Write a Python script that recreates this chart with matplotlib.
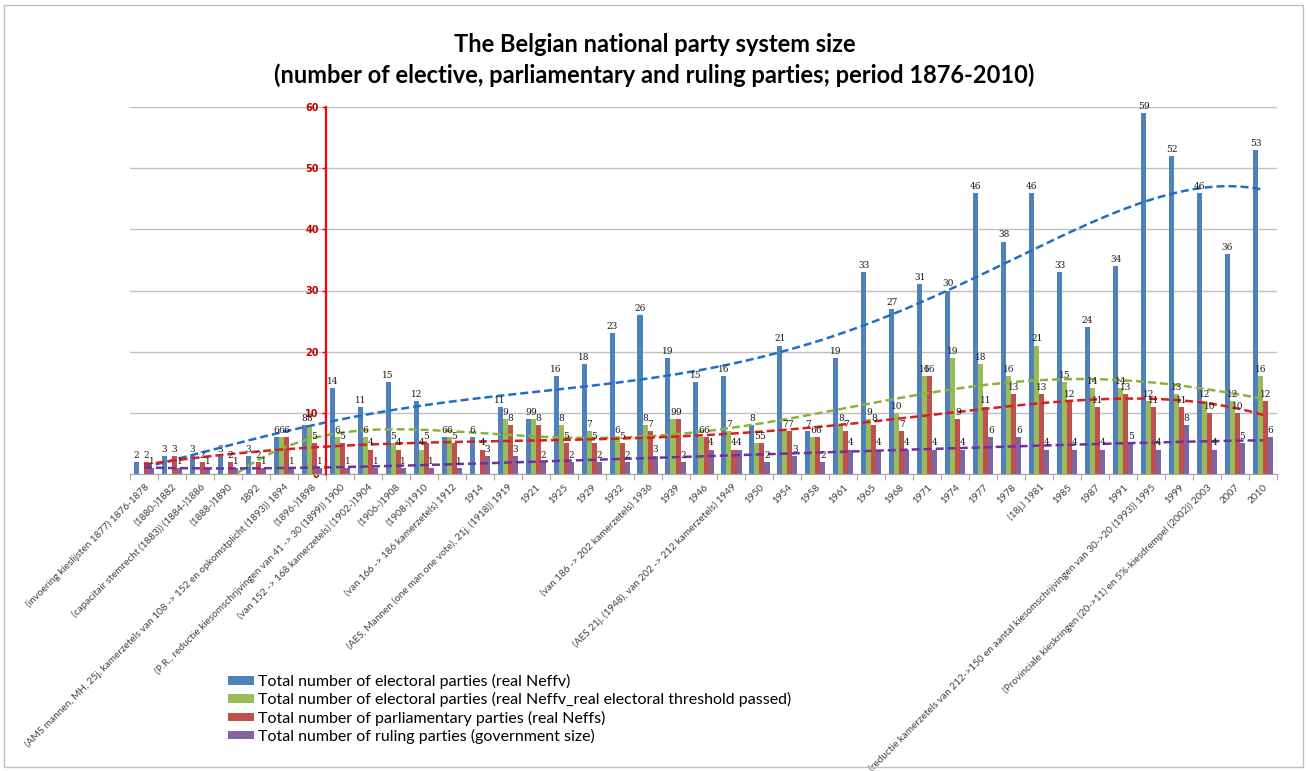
import numpy as np
import matplotlib
matplotlib.use("Agg")
import matplotlib.pyplot as plt
from matplotlib.patches import Patch, Rectangle

# Election categories (with reform notes) on the horizontal axis
categories = [
    "(invoering kieslijsten 1877) 1876-1878",
    "(1880-)1882",
    "(capacitair stemrecht (1883)) (1884-)1886",
    "(1888-)1890",
    "1892",
    "(AMS mannen, MH, 25j, kamerzetels van 108 -> 152 en opkomstplicht (1893)) 1894",
    "(1896-)1898",
    "(P.R., reductie kiesomschrijvingen van 41 -> 30 (1899)) 1900",
    "(van 152 -> 168 kamerzetels) (1902-)1904",
    "(1906-)1908",
    "(1908-)1910",
    "(van 166 -> 186 kamerzetels) 1912",
    "1914",
    "(AES, Mannen (one man one vote), 21j, (1918)) 1919",
    "1921", "1925", "1929", "1932",
    "(van 186 -> 202 kamerzetels) 1936",
    "1939", "1946",
    "(AES 21j, (1948), van 202 -> 212 kamerzetels) 1949",
    "1950", "1954", "1958", "1961", "1965", "1968", "1971", "1974", "1977", "1978",
    "(18j,) 1981", "1985", "1987", "1991",
    "(reductie kamerzetels van 212->150 en aantal kiesomschrijvingen van 30->20 (1993)) 1995",
    "1999",
    "(Provinciale kieskringen (20->11) en 5%-kiesdrempel (2002)) 2003",
    "2007", "2010",
]

nan = float("nan")

# Series values (nan = no figure for that election)
electoral = [2, 3, 3, 3, 3, 6, 8, 14, 11, 15, 12, 6, 6, 11, 9, 16, 18, 23, 26, 19, 15,
             16, 8, 21, 7, 19, 33, 27, 31, 30, 46, 38, 46, 33, 24, 34, 59, 52, 46, 36, 53]
electoral_threshold = [nan, nan, nan, 0, 0, 6, 8, 6, 6, 5, 4, 6, nan, 9, 9, 8, 7, 6, 8, 9, 6,
                       7, 5, 7, 6, 8, 9, 10, 16, 19, 18, 16, 21, 15, 14, 14, 12, 13, 12, 12, 16]
parliamentary = [2, 3, 2, 2, 2, 6, 5, 5, 4, 4, 5, 5, 4, 8, 8, 5, 5, 5, 7, 9, 6,
                 4, 5, 7, 6, 7, 8, 7, 16, 9, 11, 13, 13, 12, 11, 13, 11, 11, 10, 10, 12]
ruling = [1, 1, 1, 1, 1, 1, 1, 1, 1, 1, 1, 1, 3, 3, 2, 2, 2, 2, 3, 2, 4,
          4, 2, 3, 2, 4, 4, 4, 4, 4, 6, 6, 4, 4, 4, 5, 4, 8, 4, 5, 6]

series_names = [
    "Total number of electoral parties (real Neffv)",
    "Total number of electoral parties (real Neffv_real electoral threshold passed)",
    "Total number of parliamentary parties (real Neffs)",
    "Total number of ruling parties (government size)",
]
bar_colors = ["#4F81BD", "#9BBB59", "#C0504D", "#8064A2"]
trend_colors = ["#1F6FC5", "#8CB23A", "#D81E1E", "#7030A0"]
trend_orders = [5, 5, 5, 5]

W, H = 1309, 771
fig = plt.figure(figsize=(W / 100, H / 100), dpi=100)
fig.patch.set_facecolor("white")

x0, x1, y0, y1 = 130, 1277, 107, 474
ax = fig.add_axes([x0 / W, 1 - y1 / H, (x1 - x0) / W, (y1 - y0) / H])

n = len(categories)
x = np.arange(n)
bw = 0.18
all_series = [electoral, electoral_threshold, parliamentary, ruling]

for k, (vals, col) in enumerate(zip(all_series, bar_colors)):
    vals = np.asarray(vals, dtype=float)
    pos = x + (k - 1.5) * bw
    ax.bar(pos, np.nan_to_num(vals), width=bw, color=col, edgecolor="none", zorder=2)
    for xp, v in zip(pos, vals):
        if np.isfinite(v) and v > 0:
            ax.annotate(f"{v:.0f}", (xp, v), xytext=(0, 1.5), textcoords="offset points",
                        ha="center", va="bottom", fontsize=6.5, family="DejaVu Serif",
                        color="#1a1a1a", zorder=4)

# Polynomial trend lines over the available points of each series
for vals, col, order in zip(all_series, trend_colors, trend_orders):
    vals = np.asarray(vals, dtype=float)
    ok = np.isfinite(vals)
    coef = np.polyfit(x[ok] + 1, vals[ok], order)
    xs = np.linspace(x[ok][0], x[ok][-1], 400)
    ax.plot(xs, np.polyval(coef, xs + 1), color=col, lw=1.8, ls=(0, (3.2, 1.6)), zorder=3)

ax.set_xlim(-0.5, n - 0.5)
ax.set_ylim(0, 60)

# Gridlines
ax.set_yticks(np.arange(0, 61, 10))
ax.yaxis.grid(True, color="#C0C0C0", lw=1)
ax.set_axisbelow(True)

# Value axis crossing between 1898 and 1900
for s in ["top", "right"]:
    ax.spines[s].set_visible(False)
ax.spines["left"].set_position(("data", 6.5))
ax.spines["left"].set_color("#FF0000")
ax.spines["left"].set_linewidth(1.6)
ax.spines["left"].set_zorder(5)
ax.spines["bottom"].set_color("#A6A6A6")
ax.tick_params(axis="y", colors="#FF0000", direction="out", length=3, width=1,
               labelsize=7, pad=2)
for t in ax.get_yticklabels():
    t.set_fontweight("bold")
    t.set_color("#C00000")

# Category axis: tick marks between groups, labels centred on groups
ax.set_xticks(np.arange(-0.5, n, 1.0))
ax.set_xticklabels([])
ax.tick_params(axis="x", which="major", direction="out", length=4, color="#A6A6A6")
ax.set_xticks(x, minor=True)
ax.set_xticklabels(categories, minor=True, rotation=45, ha="right", va="top",
                   rotation_mode="anchor", fontsize=7.2, family="Lato", color="#404040")
ax.tick_params(axis="x", which="minor", length=0, pad=6)

# Title
fig.text(0.5, 1 - 45 / H, "The Belgian national party system size", ha="center",
         va="center", fontsize=17, fontweight="bold", family="Lato", color="#000000")
fig.text(0.5, 1 - 75 / H,
         "(number of elective, parliamentary and ruling parties; period 1876-2010)",
         ha="center", va="center", fontsize=17, fontweight="bold", family="Lato",
         color="#000000")

# Legend
handles = [Patch(facecolor=c, edgecolor="none") for c in bar_colors]
fig.legend(handles, series_names, loc="upper left",
           bbox_to_anchor=(228 / W, 1 - 674 / H), frameon=False,
           prop={"family": "Lato", "size": 11.5}, handlelength=1.6, handleheight=0.45,
           handletextpad=0.25, labelspacing=0.2, borderpad=0, borderaxespad=0)

# Outer chart frame
fig.patches.append(Rectangle((4 / W, 4 / H), 1 - 10 / W, 1 - 9 / H,
                             transform=fig.transFigure, fill=False,
                             edgecolor="#BFBFBF", lw=1))

fig.savefig("out.png", dpi=100, facecolor="white")
